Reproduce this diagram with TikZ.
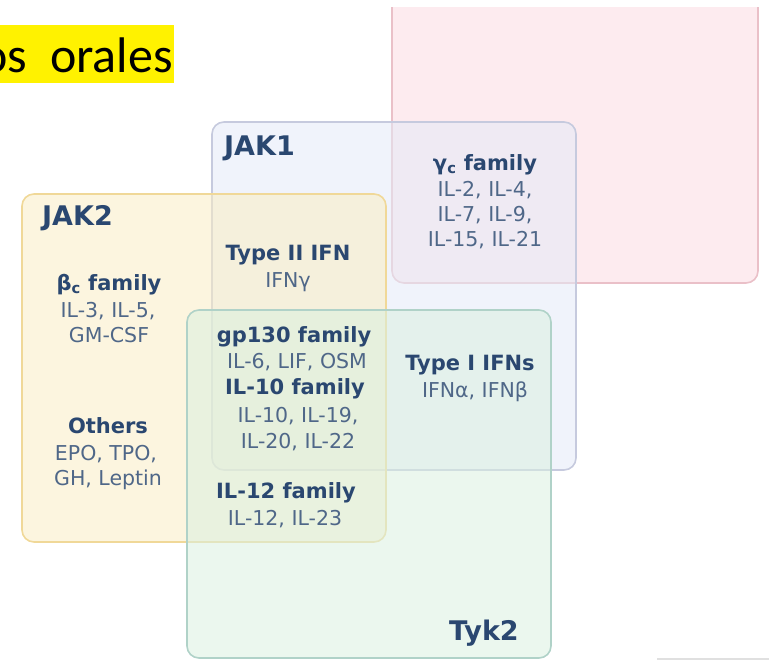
\documentclass[tikz,border=0pt]{standalone}
\usepackage{fontspec}
\setmainfont{DejaVu Sans}
\newfontfamily\titlefont{Carlito}
\definecolor{headblue}{HTML}{2A4770}
\definecolor{itemblue}{HTML}{4F6788}
\definecolor{pinkfill}{HTML}{FBDAE1}
\definecolor{pinkline}{HTML}{EAC0C8}
\definecolor{jakonefill}{HTML}{E4EAF7}
\definecolor{jakoneline}{HTML}{C6CADE}
\definecolor{jaktwofill}{HTML}{FAEDC4}
\definecolor{jaktwoline}{HTML}{F0D898}
\definecolor{tykfill}{HTML}{DAF0E0}
\definecolor{tykline}{HTML}{B0D2C8}
\tikzset{
  famhead/.style={font=\fontsize{21}{21}\bfseries, text=headblue, anchor=base, inner sep=0pt},
  famitem/.style={font=\fontsize{20.5}{21}\selectfont, text=itemblue, anchor=base, inner sep=0pt},
  kinase/.style={font=\fontsize{27}{27}\bfseries, text=headblue, anchor=base west, inner sep=0pt},
  jakbox/.style={rounded corners=12pt, line width=1.6pt, fill opacity=0.55}
}
\begin{document}
\begin{tikzpicture}[x=1pt,y=-1pt]
  \useasboundingbox (0,0) rectangle (769,664);

  % title strip
  \fill[yellow] (0,25) rectangle (174,83);
  \node[anchor=base east, inner sep=0pt, font=\titlefont\fontsize{50}{50}\selectfont] (titel) at (173,72) {os\ \ orales};

  % kinase boxes
  \begin{scope}
    \clip (0,7) rectangle (769,664);
    \draw[jakbox, draw=pinkline, fill=pinkfill] (392,-30) rectangle (758,283);
  \end{scope}
  \draw[jakbox, draw=jakoneline, fill=jakonefill] (212,122) rectangle (576,470);
  \draw[jakbox, draw=jaktwoline, fill=jaktwofill] (22,194) rectangle (386,542);
  \draw[jakbox, draw=tykline, fill=tykfill] (187,310) rectangle (551,658);
  \draw[black!12, line width=1.5pt] (657,659) -- (769,659);

  % kinase names
  \node[kinase] (jakone) at (224,155) {JAK1};
  \node[kinase] (jaktwo) at (42,225) {JAK2};
  \node[kinase] (tyktwo) at (449,640) {Tyk2};

  % gamma c family
  \node[famhead] (gc-h) at (485,170) {γ\textsubscript{c} family};
  \node[famitem] (gc-1) at (485,196) {IL-2, IL-4,};
  \node[famitem] (gc-2) at (485,221) {IL-7, IL-9,};
  \node[famitem] (gc-3) at (485,246) {IL-15, IL-21};

  % type II IFN
  \node[famhead] (ifntwo-h) at (288,260) {Type II IFN};
  \node[famitem] (ifntwo-1) at (288,287) {IFNγ};

  % beta c family
  \node[famhead] (bc-h) at (109,290) {β\textsubscript{c} family};
  \node[famitem] (bc-1) at (108,317) {IL-3, IL-5,};
  \node[famitem] (bc-2) at (109,342) {GM-CSF};

  % gp130 and IL-10
  \node[famhead] (gp-h) at (294,342) {gp130 family};
  \node[famitem] (gp-1) at (297,368) {IL-6, LIF, OSM};
  \node[famhead] (ilten-h) at (295,394) {IL-10 family};
  \node[famitem] (ilten-1) at (298,422) {IL-10, IL-19,};
  \node[famitem] (ilten-2) at (298,448) {IL-20, IL-22};

  % type I IFNs
  \node[famhead] (ifnone-h) at (470,370) {Type I IFNs};
  \node[famitem] (ifnone-1) at (475,397) {IFNα, IFNβ};

  % others
  \node[famhead] (oth-h) at (108,433) {Others};
  \node[famitem] (oth-1) at (106,460) {EPO, TPO,};
  \node[famitem] (oth-2) at (108,485) {GH, Leptin};

  % IL-12
  \node[famhead] (iltw-h) at (286,498) {IL-12 family};
  \node[famitem] (iltw-1) at (285,525) {IL-12, IL-23};
\end{tikzpicture}
\end{document}
